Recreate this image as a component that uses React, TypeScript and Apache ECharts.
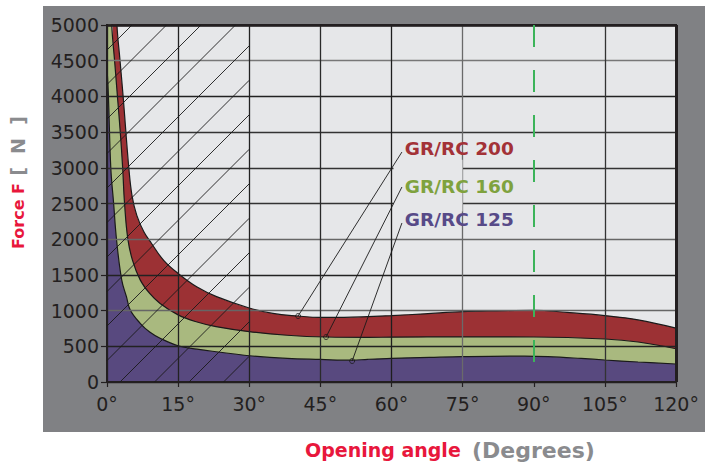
import React, { useEffect, useRef } from 'react';
import * as echarts from 'echarts';

// Opening angle (degrees) vs closing force F (N)
const xTickStep = 15;
const yTickStep = 500;
const seriesNames = ['GR/RC 200', 'GR/RC 160', 'GR/RC 125'];
const seriesColors = ['#9c3134', '#a9b97f', '#58497f'];
const labelColors = ['#a33237', '#7fa23e', '#574a88'];

const gr200: number[][] = [
  [1.2, 6500], [2.1, 5000], [2.75, 4500], [3.4, 4000], [4.6, 3000], [5.3, 2600],
  [6.3, 2330], [7.8, 2100], [9.4, 1940], [12, 1700], [15.2, 1510], [19, 1330], [23.1, 1195],
  [30, 1036], [35, 960], [40.3, 924], [45, 905], [50, 905], [55, 915], [60, 930],
  [67, 955], [75, 985], [82, 997], [90, 1005], [97, 975], [105, 930], [112, 870], [120, 755],
];
const gr160: number[][] = [
  [0.2, 6500], [1.0, 5000], [1.6, 4500], [2.2, 4000], [2.8, 3500], [3.3, 3000], [3.7, 2500],
  [4.4, 2000], [5.4, 1700], [7, 1430], [9, 1240], [11.2, 1100], [15, 940],
  [19, 840], [23, 775], [30, 705], [38, 655], [46.2, 630], [55, 625], [60, 628],
  [75, 632], [90, 630], [105, 602], [112, 560], [120, 466],
];
const gr125: number[][] = [
  [0, 4400], [0.3, 4000], [0.8, 3000], [1.4, 2500], [2.0, 2000], [3.1, 1430],
  [4.1, 1195], [4.9, 1008], [7, 822], [9, 700], [11.2, 613], [15, 508], [19, 460],
  [23, 424], [30, 368], [38, 330], [45, 316], [51.7, 305], [55, 318], [60, 332],
  [68, 345], [75, 355], [88, 362], [93, 355], [100, 330], [105, 308], [112, 280], [120, 252],
];
const seriesData = [gr200, gr160, gr125];

// leader lines: dot on curve -> label anchor
const leaderDots: number[][] = [[40.3, 924], [46.2, 630], [51.7, 294]];
const leaderEnds: number[][] = [[62.2, 3221], [62.2, 2731], [62.2, 2227]];
const labelAnchors: number[][] = [[62.8, 3277], [62.8, 2745], [62.8, 2269]];
const openingLimit = 90;
const openingLimitLow = 266;
const hatchMaxAngle = 30;

const FONT = 'DejaVu Sans';

export default function App() {
  const ref = useRef<HTMLDivElement>(null);
  useEffect(() => {
    if (!ref.current) return;
    const chart = echarts.init(ref.current, null, { renderer: 'svg' });
    const xColors = ['#222', '#222', '#222', '#2a2a2a', '#1e1e1e', '#6a6a6a', 'rgba(0,0,0,0)', '#333', '#222'];
    const yColors = ['#222', '#222', '#666', '#222', '#666', '#333', '#333', '#333', '#222', '#777', '#222'];
    chart.setOption({
      animation: false,
      backgroundColor: '#ffffff',
      grid: {
        left: 107, top: 25, right: 29, bottom: 83,
        show: true, backgroundColor: '#e6e7e9', borderColor: '#231f20', borderWidth: 2,
      },
      xAxis: {
        type: 'value', min: 0, max: 120, interval: xTickStep, z: 3,
        axisLine: { show: true, onZero: false, lineStyle: { color: '#231f20', width: 2 } },
        axisTick: { show: true, length: 5, lineStyle: { color: '#231f20', width: 1.2 } },
        axisLabel: { formatter: (v: number) => String(v) + '°', fontFamily: FONT, fontSize: 19, color: '#231f20', margin: 12 },
        splitLine: { show: true, lineStyle: { color: xColors, width: 1.3 } },
      },
      yAxis: {
        type: 'value', min: 0, max: 5000, interval: yTickStep, z: 3,
        axisLine: { show: true, onZero: false, lineStyle: { color: '#231f20', width: 2 } },
        axisTick: { show: true, length: 6, lineStyle: { color: '#231f20', width: 1.2 } },
        axisLabel: { formatter: (v: number) => String(v), fontFamily: FONT, fontSize: 19, color: '#231f20', margin: 8 },
        splitLine: { show: true, lineStyle: { color: yColors, width: 1.3 } },
      },
      series: [
        ...seriesData.map((d, i) => ({
          type: 'line', name: seriesNames[i], data: d, symbol: 'none',
          smooth: 0.4, clip: true, z: 2,
          lineStyle: { color: '#1a1a1a', width: 1.2 },
          areaStyle: { color: seriesColors[i], opacity: 1 },
        })),
        {
          type: 'scatter', name: 'leaders', data: leaderDots, z: 6,
          symbol: 'circle', symbolSize: 5,
          itemStyle: { color: 'rgba(0,0,0,0)', borderColor: '#1a1a1a', borderWidth: 1 },
          markLine: {
            silent: true, symbol: ['none', 'none'], label: { show: false }, z: 6,
            data: [
              ...leaderDots.map((p, i) => [
                { coord: p, lineStyle: { color: '#1a1a1a', width: 0.9, type: 'solid' } },
                { coord: leaderEnds[i], lineStyle: { color: '#1a1a1a', width: 0.9, type: 'solid' } },
              ]),
              [
                { coord: [openingLimit, 5000], lineStyle: { color: '#3cb45a', width: 2, type: [22, 23] } },
                { coord: [openingLimit, openingLimitLow], lineStyle: { color: '#3cb45a', width: 2, type: [22, 23] } },
              ],
            ],
          },
        },
      ],
    });

    const px = (x: number, y: number) => chart.convertToPixel({ gridIndex: 0 }, [x, y]) as number[];
    const [x0, y0] = px(0, 0);
    const [x1, y1] = px(hatchMaxAngle, 5000);
    const [xEnd] = px(120, 0);
    const H = y0 - y1;
    const hatch: any[] = [];
    for (let n = -12; n <= 6; n++) {
      const c = x0 + 13 + 34.5 * n;
      const tmin = Math.max(0, x0 - c);
      const tmax = Math.min(H, x1 - c);
      if (tmin < tmax) {
        hatch.push({
          type: 'line', z: 10, silent: true,
          shape: { x1: c + tmin, y1: y0 - tmin, x2: c + tmax, y2: y0 - tmax },
          style: { stroke: '#1a1a1a', lineWidth: 0.9 },
        });
      }
    }
    const [x60] = px(60, 0);
    const [, yA] = px(0, 3000);
    const [, yB] = px(0, 2500);
    const labels = labelAnchors.map((p, i) => {
      const [lx, ly] = px(p[0], p[1]);
      return {
        type: 'text', z: 12, x: lx, y: ly, silent: true,
        style: {
          text: seriesNames[i], fill: labelColors[i], font: `bold 18.5px "${FONT}"`,
          textAlign: 'left', textVerticalAlign: 'middle', align: 'left', verticalAlign: 'middle',
        },
      };
    });
    const txt = (text: string, x: number, y: number, font: string, fill: string, align: string, rotation = 0) => ({
      type: 'text', z: 12, x, y, rotation, silent: true,
      style: { text, font, fill, textAlign: align, align, textVerticalAlign: 'middle', verticalAlign: 'middle' },
    });
    chart.setOption({
      graphic: [
        { type: 'rect', z: -10, silent: true, shape: { x: 43, y: 6, width: 662, height: 426 }, style: { fill: '#808184' } },
        { type: 'rect', z: 4, silent: true, shape: { x: x60 + 2, y: yA - 8, width: 69, height: yB - yA + 16 }, style: { fill: '#e6e7e9' } },
        { type: 'line', z: 5, silent: true, shape: { x1: x0, y1: y1 + 0.5, x2: xEnd + 1, y2: y1 + 0.5 }, style: { stroke: '#231f20', lineWidth: 2.5 } },
        { type: 'line', z: 5, silent: true, shape: { x1: xEnd + 0.5, y1: y1, x2: xEnd + 0.5, y2: y0 }, style: { stroke: '#231f20', lineWidth: 3 } },
        ...hatch,
        ...labels,
        txt('Force F', 18, 216, `bold 16px "${FONT}"`, '#e8173c', 'center', Math.PI / 2),
        txt('[  N  ]', 18, 146, `bold 19px "${FONT}"`, '#8a8b8e', 'center', Math.PI / 2),
        txt('Opening angle', 305, 450, `bold 19px "${FONT}"`, '#e8173c', 'left'),
        txt('(Degrees)', 472, 450, `bold 22px "${FONT}"`, '#8a8b8e', 'left'),
      ],
    });
    return () => chart.dispose();
  }, []);
  return <div ref={ref} style={{ position: 'fixed', left: 0, top: 0, width: 705, height: 465 }} />;
}
